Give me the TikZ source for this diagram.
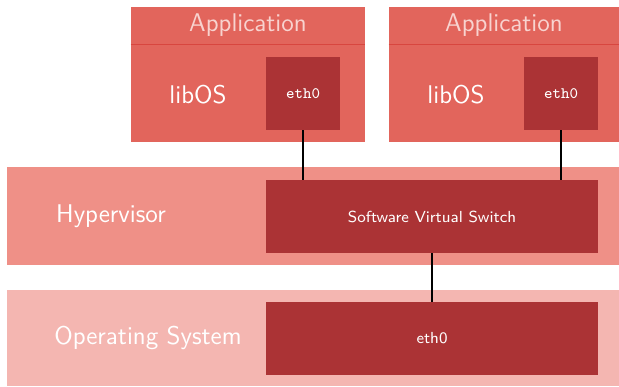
\documentclass[tikz,border=0pt]{standalone}
\usepackage{tikz}
\usetikzlibrary{positioning}

\definecolor{appred}{HTML}{E2655C}
\definecolor{hypred}{HTML}{EF9087}
\definecolor{osred}{HTML}{F4B6B1}
\definecolor{boxred}{HTML}{AB3335}
\definecolor{linered}{HTML}{D8463F}
\definecolor{titlepink}{HTML}{F8D3CF}

\begin{document}
\begin{tikzpicture}[
    x=0.5pt, y=-0.5pt,
    font=\sffamily,
    layer/.style={rectangle, inner sep=0pt, minimum width=306pt},
    appbox/.style={rectangle, fill=appred, inner sep=0pt, minimum height=67.5pt},
    apptitle/.style={rectangle, inner sep=0pt, minimum height=18.5pt, text=titlepink,
                     font=\sffamily\fontsize{12.8}{15}\selectfont},
    nicbox/.style={rectangle, fill=boxred, inner sep=0pt, minimum width=37pt, minimum height=36.5pt,
                   text=white, font=\ttfamily\footnotesize},
    widebox/.style={rectangle, fill=boxred, inner sep=0pt, minimum width=166pt, minimum height=36.5pt,
                    text=white, font=\sffamily\footnotesize},
    biglabel/.style={text=white, font=\sffamily\fontsize{12.8}{15}\selectfont},
    link/.style={line width=1pt, black}
]
    \useasboundingbox (0,0) rectangle (619,386);

    % Layers
    \node[layer, fill=hypred, minimum height=49pt] (hyp) at (313,216) {};
    \node[layer, fill=osred, minimum height=48pt] (os) at (313,338) {};
    \node[biglabel] (hyplabel) at (111,216) {Hypervisor};
    \node[biglabel] (oslabel) at (148,338) {Operating System};

    % Applications
    \node[appbox, minimum width=117pt] (app1) at (248,74.5) {};
    \node[appbox, minimum width=115pt] (app2) at (504,74.5) {};
    \node[apptitle, minimum width=117pt, anchor=north] (title1) at (app1.north) {Application};
    \node[apptitle, minimum width=115pt, anchor=north] (title2) at (app2.north) {Application};
    \draw[linered, line width=0.6pt] (title1.south west) -- (title1.south east);
    \draw[linered, line width=0.6pt] (title2.south west) -- (title2.south east);
    \node[biglabel] (libos1) at (198,95) {libOS};
    \node[biglabel] (libos2) at (456,95) {libOS};

    % NICs and switch
    \node[nicbox] (nic1) at (303,93.5) {eth0};
    \node[nicbox] (nic2) at (561,93.5) {eth0};
    \node[widebox] (switch) at (432,216.5) {Software Virtual Switch};
    \node[widebox] (nic) at (432,338.5) {eth0};

    % Links
    \draw[link] (nic1.south) -- (nic1.south |- switch.north);
    \draw[link] (nic2.south) -- (nic2.south |- switch.north);
    \draw[link] (switch.south) -- (nic.north);
\end{tikzpicture}
\end{document}
